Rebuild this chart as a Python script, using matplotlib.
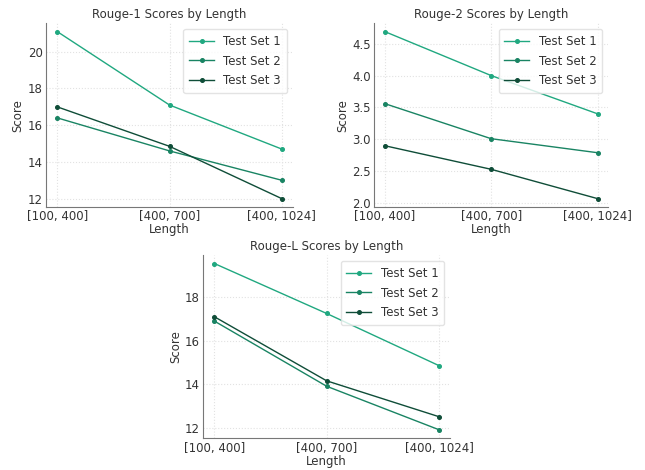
import matplotlib.pyplot as plt

lengths = ["[100, 400]", "[400, 700]", "[400, 1024]"]
series_names = ["Test Set 1", "Test Set 2", "Test Set 3"]

rouge1 = [
    [21.1, 17.1, 14.7],
    [16.4, 14.6, 13.0],
    [17.0, 14.85, 12.0],
]
rouge2 = [
    [4.69, 4.0, 3.4],
    [3.56, 3.01, 2.79],
    [2.9, 2.53, 2.07],
]
rougel = [
    [19.55, 17.25, 14.85],
    [16.9, 13.9, 11.9],
    [17.1, 14.15, 12.5],
]

colors = ["#20a880", "#198463", "#0f4d38"]


def draw(ax, data, title):
    x = range(len(lengths))
    for vals, name, c in zip(data, series_names, colors):
        ax.plot(x, vals, marker="o", markersize=2.6, linewidth=1.0, color=c, label=name)
    ax.set_xticks(list(x))
    ax.set_xticklabels(lengths)
    ax.set_title(title, fontsize=8.5, color="#333333", pad=4)
    ax.set_xlabel("Length", fontsize=8.5, color="#333333", labelpad=0)
    ax.set_ylabel("Score", fontsize=8.5, color="#333333", labelpad=2)
    ax.grid(True, color="#e2e2e2", linestyle=":", linewidth=0.8)
    for side in ("top", "right"):
        ax.spines[side].set_visible(False)
    for side in ("left", "bottom"):
        ax.spines[side].set_color("#777777")
        ax.spines[side].set_linewidth(0.8)
    ax.tick_params(labelsize=8.5, colors="#333333", length=0, pad=2.5)
    leg = ax.legend(loc="upper right", fontsize=8.5, frameon=True, fancybox=True,
                    borderpad=0.5, labelspacing=0.55, handlelength=2.1)
    leg.get_frame().set_edgecolor("#dddddd")
    for t in leg.get_texts():
        t.set_color("#333333")


fig = plt.figure(figsize=(6.45, 4.7), dpi=100)
ax1 = fig.add_axes([0.0713, 0.5596, 0.383, 0.391])
ax2 = fig.add_axes([0.580, 0.5596, 0.363, 0.391])
ax3 = fig.add_axes([0.315, 0.068, 0.383, 0.389])

draw(ax1, rouge1, "Rouge-1 Scores by Length")
draw(ax2, rouge2, "Rouge-2 Scores by Length")
draw(ax3, rougel, "Rouge-L Scores by Length")

fig.savefig("out.png", dpi=100)
